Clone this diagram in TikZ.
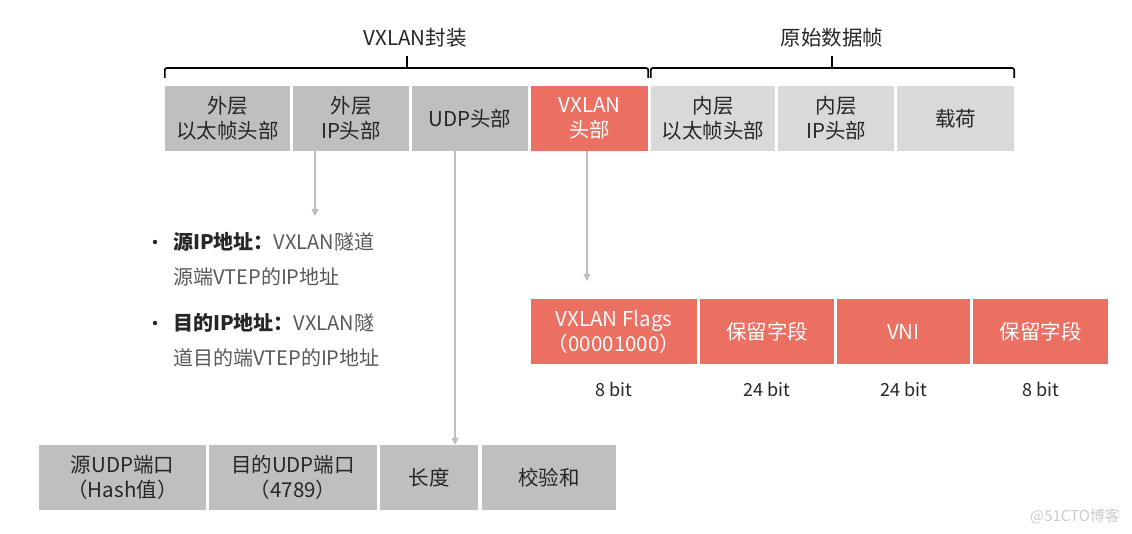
\documentclass[tikz,border=0pt]{standalone}
\usepackage{fontspec}
\setmainfont{Noto Sans CJK SC}
\usetikzlibrary{arrows.meta}
\definecolor{dgray}{HTML}{BFBFBF}
\definecolor{lgray}{HTML}{D9D9D9}
\definecolor{vred}{HTML}{EB7062}
\definecolor{agray}{HTML}{BDBDBD}
\definecolor{txt}{HTML}{262626}
\definecolor{txtg}{HTML}{595959}
\definecolor{wmg}{HTML}{CCCCCC}
\tikzset{
  fld/.style={minimum height=65pt, inner sep=0pt, align=center, font=\fontsize{20.5}{25}\selectfont, text=txt},
  outer/.style={fld, fill=dgray},
  inner/.style={fld, fill=lgray},
  redf/.style={fld, fill=vred, text=white},
  brace/.style={line width=1.6pt, rounded corners=2pt},
  arr/.style={agray, line width=1.3pt, -{Triangle[length=7pt,width=7pt]}},
  lbl/.style={font=\fontsize{20.5}{22}\selectfont, text=txt},
  bitl/.style={font=\fontsize{18}{20}\selectfont, text=txt},
  bul/.style={anchor=west, inner sep=0pt, font=\fontsize{20}{22}\selectfont, text=txtg},
}
\begin{document}
\begin{tikzpicture}[x=1pt,y=-1pt]
\useasboundingbox (0,0) rectangle (1132,534);
\fill[white] (0,0) rectangle (1132,534);
% top row
\node[outer, minimum width=125pt] (t1) at (227.5,118.5) {外层\\以太帧头部};
\node[outer, minimum width=116pt] (t2) at (351,118.5) {外层\\IP头部};
\node[outer, minimum width=116pt] (t3) at (470,118.5) {UDP头部};
\node[redf, minimum width=117pt] (t4) at (589.5,118.5) {VXLAN\\头部};
\node[inner, minimum width=124pt] (t5) at (713,118.5) {内层\\以太帧头部};
\node[inner, minimum width=116pt] (t6) at (836,118.5) {内层\\IP头部};
\node[inner, minimum width=117pt] (t7) at (955.5,118.5) {载荷};
% braces
\draw[brace] (t1.north west |- 0,78) -- (t1.north west |- 0,68) -- (t4.north east |- 0,68) -- (t4.north east |- 0,78);
\draw[brace] (407,68) -- (407,56);
\draw[brace] (t5.north west |- 0,78) -- (t5.north west |- 0,68) -- (t7.north east |- 0,68) -- (t7.north east |- 0,78);
\draw[brace] (832,68) -- (832,56);
\node[lbl] (L1) at (415,38) {VXLAN封装};
\node[lbl] (L2) at (832,38) {原始数据帧};
% bullets
\node[bul] (b1) at (173,242) {\textcolor{txt}{\textbf{源IP地址：}}VXLAN隧道};
\node[bul] (b1b) at (173,277) {源端VTEP的IP地址};
\node[bul] (b2) at (173,323) {\textcolor{txt}{\textbf{目的IP地址：}}VXLAN隧};
\node[bul] (b2b) at (173,358) {道目的端VTEP的IP地址};
\fill[txt] (155,242) circle (2.2pt);
\fill[txt] (155,323) circle (2.2pt);
% VXLAN header fields
\node[redf, minimum width=166pt] (v1) at (614,331.5) {VXLAN Flags\\（00001000）};
\node[redf, minimum width=134pt] (v2) at (767,331.5) {保留字段};
\node[redf, minimum width=133pt] (v3) at (903.5,331.5) {VNI};
\node[redf, minimum width=135pt] (v4) at (1040.5,331.5) {保留字段};
\node[bitl] (s1) at (614,389) {8 bit};
\node[bitl] (s2) at (767,389) {24 bit};
\node[bitl] (s3) at (903.5,389) {24 bit};
\node[bitl] (s4) at (1040.5,389) {8 bit};
% UDP header fields
\node[outer, minimum width=167pt] (u1) at (122.5,477.5) {源UDP端口\\（Hash值）};
\node[outer, minimum width=168pt] (u2) at (293,477.5) {目的UDP端口\\（4789）};
\node[outer, minimum width=98pt] (u3) at (429,477.5) {长度};
\node[outer, minimum width=134pt] (u4) at (549,477.5) {校验和};
% arrows
\coordinate (a1) at (315,216);
\coordinate (a3) at (587,281);
\draw[arr] (t2.south -| a1) -- (a1);
\draw[arr] (t3.south -| 455,0) -- (u3.north -| 455,0);
\draw[arr] (t4.south -| a3) -- (a3);
% watermark
\node[font=\fontsize{15}{17}\selectfont, text=wmg] (wm) at (1075,516) {@51CTO博客};
\end{tikzpicture}
\end{document}
